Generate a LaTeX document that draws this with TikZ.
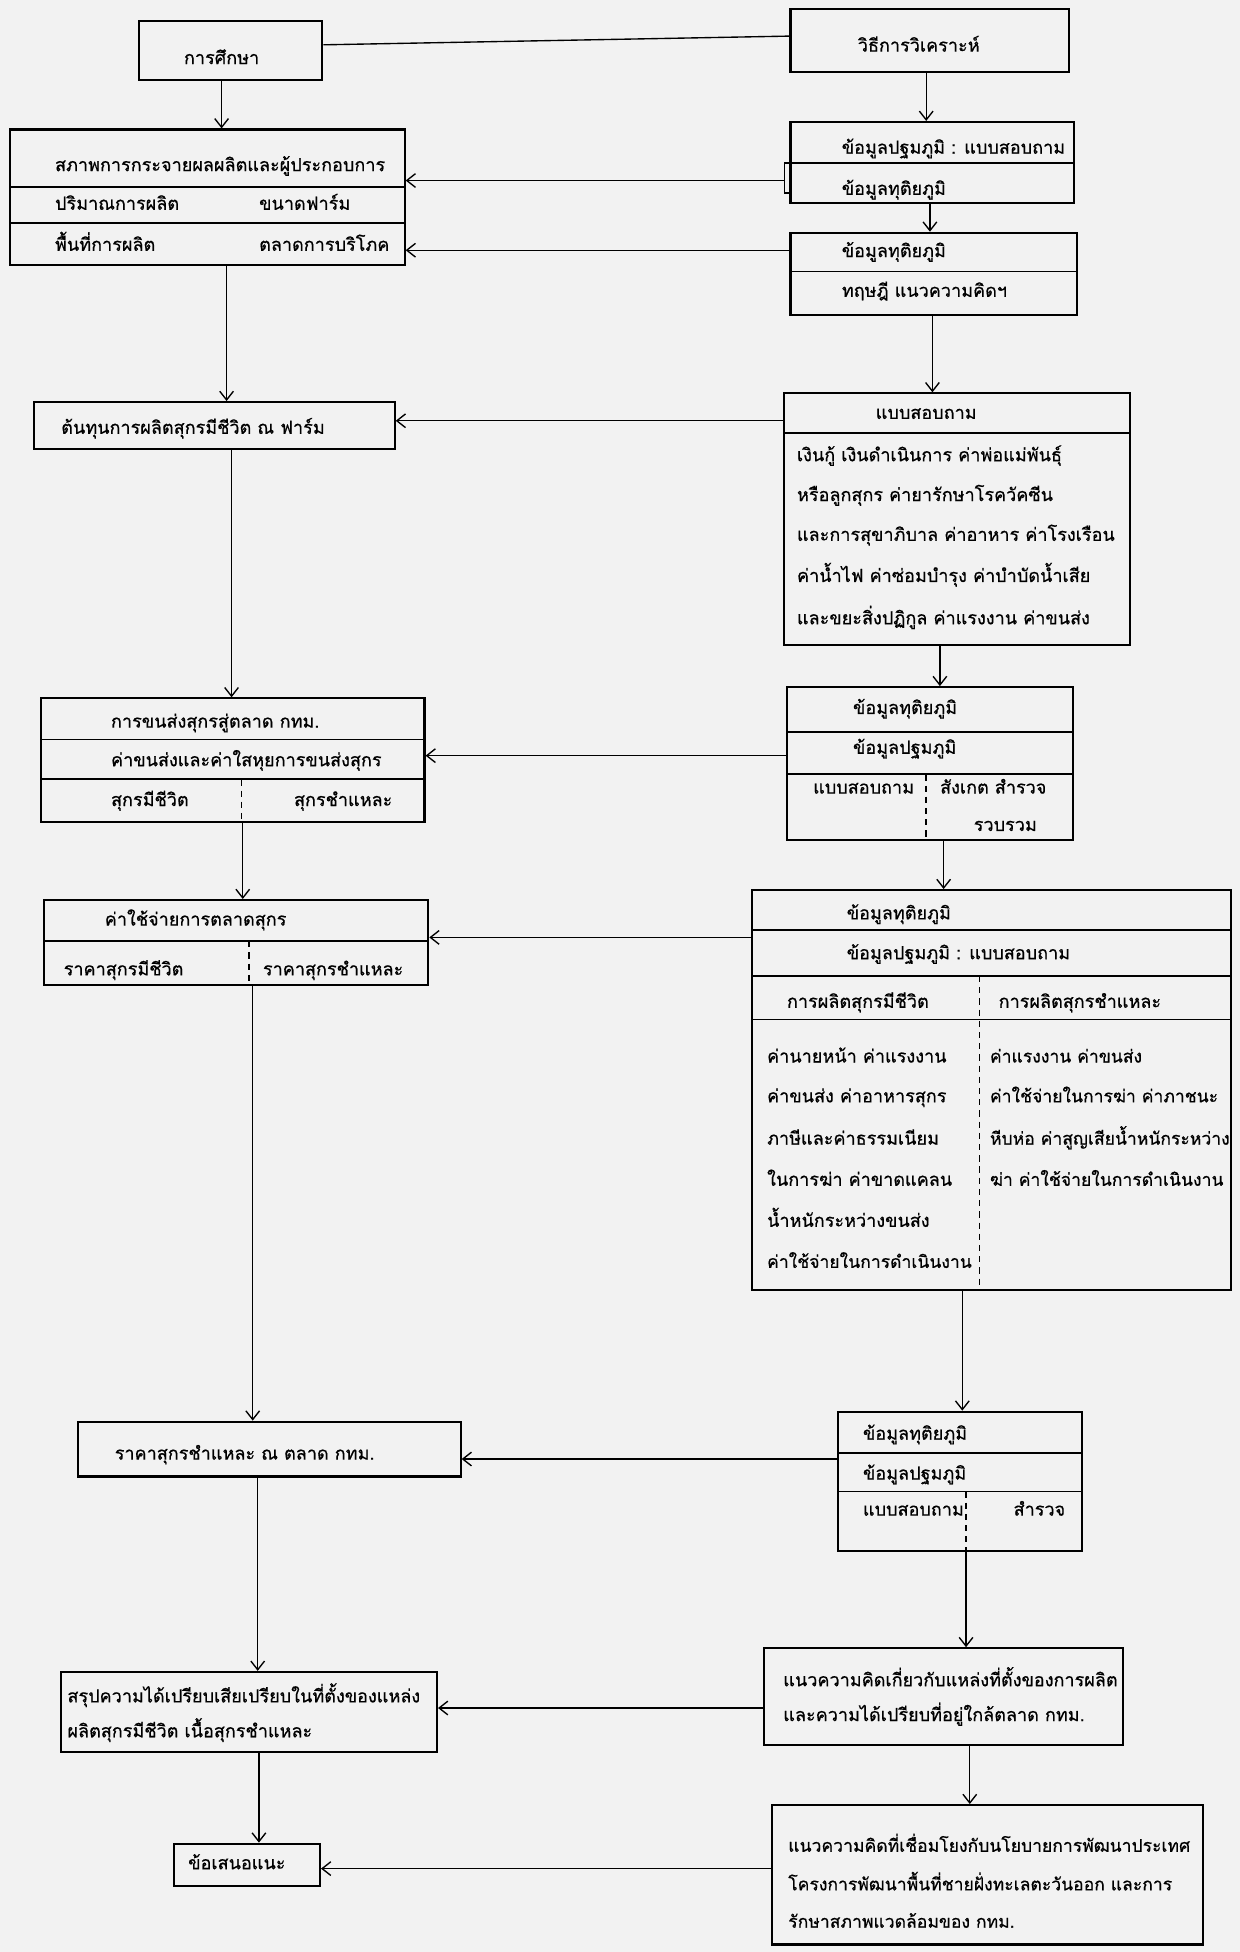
\documentclass[tikz,border=0pt]{standalone}
\usepackage{fontspec}
\newfontfamily\thai[Script=Thai, FakeBold=0.6]{Loma}
\usetikzlibrary{arrows.meta}
\begin{document}
\begin{tikzpicture}[x=1pt,y=-1pt,
  box/.style={draw, line width=1.7pt, rectangle, inner sep=0pt},
  dv/.style={line width=1.4pt},
  dd/.style={line width=1.2pt, dash pattern=on 5pt off 4pt},
  arr/.style={line width=1.1pt, -{Straight Barb[length=7pt,width=11pt]}},
  ln/.style={line width=1.1pt},
  txt/.style={inner sep=0pt, anchor=west, text height=10pt, text depth=3pt, font=\thai\fontsize{14.5}{16}\selectfont},
  ctxt/.style={txt, anchor=center},
  stxt/.style={txt, font=\thai\fontsize{14.1}{16}\selectfont}]
\fill[black!5] (0,0) rectangle (996,1568);
\useasboundingbox (0,0) rectangle (996,1568);

% ---------- boxes ----------
\node[box, minimum width=147pt, minimum height=47pt] (B1) at (185.5,40.5) {};
\node[box, minimum width=317pt, minimum height=109pt] (B2) at (166.5,158.5) {};
\node[box, minimum width=290pt, minimum height=38pt] (B3) at (172,342) {};
\node[box, minimum width=308pt, minimum height=99pt] (B4) at (187,610.5) {};
\node[box, minimum width=309pt, minimum height=68pt] (B5) at (189.5,757) {};
\node[box, minimum width=307pt, minimum height=44pt] (B6) at (216.5,1164) {};
\node[box, minimum width=302pt, minimum height=64pt] (B7) at (200,1375) {};
\node[box, minimum width=117pt, minimum height=34pt] (B8) at (198.5,1498) {};

\node[box, minimum width=224pt, minimum height=51pt] (R1) at (747,32.5) {};
\node[box, minimum width=228pt, minimum height=65pt] (R2) at (749,130.5) {};
\node[box, minimum width=230pt, minimum height=66pt] (R3) at (750,220) {};
\node[box, minimum width=278pt, minimum height=202pt] (R4) at (769,417) {};
\node[box, minimum width=230pt, minimum height=123pt] (R5) at (747,613.5) {};
\node[box, minimum width=385pt, minimum height=321pt] (R6) at (796.5,875.5) {};
\node[box, minimum width=196pt, minimum height=112pt] (R7) at (771,1190) {};
\node[box, minimum width=288pt, minimum height=78pt] (R8) at (758,1363) {};
\node[box, minimum width=346pt, minimum height=112pt] (R9) at (793,1506) {};

% ---------- dividers ----------
\draw[dv] (8,150) -- (325,150);
\draw[dv] (8,179) -- (325,179);
\draw[dv] (33,594) -- (341,594);
\draw[dv] (33,626) -- (341,626);
\draw[dd] (194,626) -- (194,660);
\draw[dv] (35,756) -- (344,756);
\draw[dd] (200,756) -- (200,791);
\draw[dv] (635,131) -- (863,131);
\draw[dv] (635,218) -- (865,218);
\draw[dv] (630,348) -- (908,348);
\draw[dv] (632,588) -- (862,588);
\draw[dv] (632,622) -- (862,622);
\draw[dd] (744,622) -- (744,675);
\draw[dv] (604,747) -- (989,747);
\draw[dv] (604,784) -- (989,784);
\draw[dv] (604,819) -- (989,819);
\draw[dd] (787,784) -- (787,1036);
\draw[dv] (673,1167) -- (869,1167);
\draw[dv] (673,1198) -- (869,1198);
\draw[dd] (776,1198) -- (776,1246);
\draw[ln] (635,131) -- (630,131) -- (630,155) -- (635,155);

% ---------- texts ----------
\node[ctxt] (tB1) at (178,48) {การศึกษา};
\node[ctxt] (tR1) at (738,38) {วิธีการวิเคราะห์};

\node[txt] (tB2a) at (44,134) {สภาพการกระจายผลผลิตและผู้ประกอบการ};
\node[txt] (tB2b) at (44,165) {ปริมาณการผลิต};
\node[txt] (tB2c) at (208,165) {ขนาดฟาร์ม};
\node[txt] (tB2d) at (44,198) {พื้นที่การผลิต};
\node[txt] (tB2e) at (208,198) {ตลาดการบริโภค};

\node[txt] (tR2a) at (676,120) {ข้อมูลปฐมภูมิ : แบบสอบถาม};
\node[txt] (tR2b) at (676,153) {ข้อมูลทุติยภูมิ};
\node[txt] (tR3a) at (676,203) {ข้อมูลทุติยภูมิ};
\node[txt] (tR3b) at (676,235) {ทฤษฎี แนวความคิดฯ};

\node[txt] (tB3) at (49,345) {ต้นทุนการผลิตสุกรมีชีวิต ณ ฟาร์ม};

\node[ctxt] (tR4h) at (744,333) {แบบสอบถาม};
\node[txt] (tR4a) at (640,367) {เงินกู้ เงินดำเนินการ ค่าพ่อแม่พันธุ์};
\node[txt] (tR4b) at (640,399) {หรือลูกสุกร ค่ายารักษาโรควัคซีน};
\node[txt] (tR4c) at (640,431) {และการสุขาภิบาล ค่าอาหาร ค่าโรงเรือน};
\node[txt] (tR4d) at (640,464) {ค่าน้ำไฟ ค่าซ่อมบำรุง ค่าบำบัดน้ำเสีย};
\node[txt] (tR4e) at (640,498) {และขยะสิ่งปฏิกูล ค่าแรงงาน ค่าขนส่ง};

\node[txt] (tB4a) at (89,581) {การขนส่งสุกรสู่ตลาด กทม.};
\node[txt] (tB4b) at (89,612) {ค่าขนส่งและค่าใสหุยการขนส่งสุกร};
\node[txt] (tB4c) at (89,644) {สุกรมีชีวิต};
\node[txt] (tB4d) at (236,644) {สุกรชำแหละ};

\node[txt] (tR5a) at (685,570) {ข้อมูลทุติยภูมิ};
\node[txt] (tR5b) at (685,602) {ข้อมูลปฐมภูมิ};
\node[txt] (tR5c) at (653,634) {แบบสอบถาม};
\node[txt] (tR5d) at (755,634) {สังเกต สำรวจ};
\node[txt] (tR5e) at (782,664) {รวบรวม};

\node[txt] (tB5a) at (84,740) {ค่าใช้จ่ายการตลาดสุกร};
\node[txt] (tB5b) at (51,780) {ราคาสุกรมีชีวิต};
\node[txt] (tB5c) at (211,780) {ราคาสุกรชำแหละ};

\node[txt] (tR6a) at (680,735) {ข้อมูลทุติยภูมิ};
\node[txt] (tR6b) at (680,767) {ข้อมูลปฐมภูมิ : แบบสอบถาม};
\node[txt] (tR6c) at (632,806) {การผลิตสุกรมีชีวิต};
\node[txt] (tR6d) at (802,806) {การผลิตสุกรชำแหละ};
\node[txt] (tR6l1) at (616,850) {ค่านายหน้า ค่าแรงงาน};
\node[txt] (tR6l2) at (616,882) {ค่าขนส่ง ค่าอาหารสุกร};
\node[txt] (tR6l3) at (616,916) {ภาษีและค่าธรรมเนียม};
\node[txt] (tR6l4) at (616,949) {ในการฆ่า ค่าขาดแคลน};
\node[txt] (tR6l5) at (616,982) {น้ำหนักระหว่างขนส่ง};
\node[stxt] (tR6l6) at (616,1015) {ค่าใช้จ่ายในการดำเนินงาน};
\node[stxt] (tR6r1) at (795,850) {ค่าแรงงาน ค่าขนส่ง};
\node[stxt] (tR6r2) at (795,882) {ค่าใช้จ่ายในการฆ่า ค่าภาชนะ};
\node[stxt] (tR6r3) at (795,916) {หีบห่อ ค่าสูญเสียน้ำหนักระหว่าง};
\node[stxt] (tR6r4) at (795,949) {ฆ่า ค่าใช้จ่ายในการดำเนินงาน};

\node[txt] (tB6) at (92,1169) {ราคาสุกรชำแหละ ณ ตลาด กทม.};

\node[txt] (tR7a) at (693,1153) {ข้อมูลทุติยภูมิ};
\node[txt] (tR7b) at (693,1185) {ข้อมูลปฐมภูมิ};
\node[txt] (tR7c) at (693,1214) {แบบสอบถาม};
\node[txt] (tR7d) at (814,1214) {สำรวจ};

\node[txt] (tB7a) at (54,1364) {สรุปความได้เปรียบเสียเปรียบในที่ตั้งของแหล่ง};
\node[txt] (tB7b) at (54,1392) {ผลิตสุกรมีชีวิต เนื้อสุกรชำแหละ};
\node[txt] (tB8) at (151,1498) {ข้อเสนอแนะ};

\node[txt] (tR8a) at (629,1351) {แนวความคิดเกี่ยวกับแหล่งที่ตั้งของการผลิต};
\node[txt] (tR8b) at (629,1379) {และความได้เปรียบที่อยู่ใกล้ตลาด กทม.};

\node[stxt] (tR9a) at (633,1484) {แนวความคิดที่เชื่อมโยงกับนโยบายการพัฒนาประเทศ};
\node[stxt] (tR9b) at (633,1515) {โครงการพัฒนาพื้นที่ชายฝั่งทะเลตะวันออก และการ};
\node[stxt] (tR9c) at (633,1545) {รักษาสภาพแวดล้อมของ กทม.};

% ---------- connectors ----------
\draw[ln] (B1.east |- 0,36) -- (R1.west |- 0,29);

\draw[arr] (R1.south -| 744,0) -- (R2.north -| 744,0);
\draw[arr] (R2.south -| 747,0) -- (R3.north -| 747,0);
\draw[arr] (R3.south -| 749,0) -- (R4.north -| 749,0);
\draw[arr] (R4.south -| 755,0) -- (R5.north -| 755,0);
\draw[arr] (R5.south -| 758,0) -- (R6.north -| 758,0);
\draw[arr] (R6.south -| 773,0) -- (R7.north -| 773,0);
\draw[arr] (R7.south -| 776,0) -- (R8.north -| 776,0);
\draw[arr] (R8.south -| 779,0) -- (R9.north -| 779,0);

\draw[arr] (B1.south -| 178,0) -- (B2.north -| 178,0);
\draw[arr] (B2.south -| 182,0) -- (B3.north -| 182,0);
\draw[arr] (B3.south -| 186,0) -- (B4.north -| 186,0);
\draw[arr] (B4.south -| 195,0) -- (B5.north -| 195,0);
\draw[arr] (B5.south -| 203,0) -- (B6.north -| 203,0);
\draw[arr] (B6.south -| 207,0) -- (B7.north -| 207,0);
\draw[arr] (B7.south -| 208,0) -- (B8.north -| 208,0);

\coordinate (brk) at (630,145);
\draw[arr] (brk) -- (B2.east |- brk);
\draw[arr] (R3.west |- 0,201) -- (B2.east |- 0,201);
\draw[arr] (R4.west |- 0,338) -- (B3.east |- 0,338);
\draw[arr] (R5.west |- 0,607) -- (B4.east |- 0,607);
\draw[arr] (R6.west |- 0,753) -- (B5.east |- 0,753);
\draw[arr] (R7.west |- 0,1172) -- (B6.east |- 0,1172);
\draw[arr] (R8.west |- 0,1372) -- (B7.east |- 0,1372);
\draw[arr] (R9.west |- 0,1501) -- (B8.east |- 0,1501);
\end{tikzpicture}
\end{document}
